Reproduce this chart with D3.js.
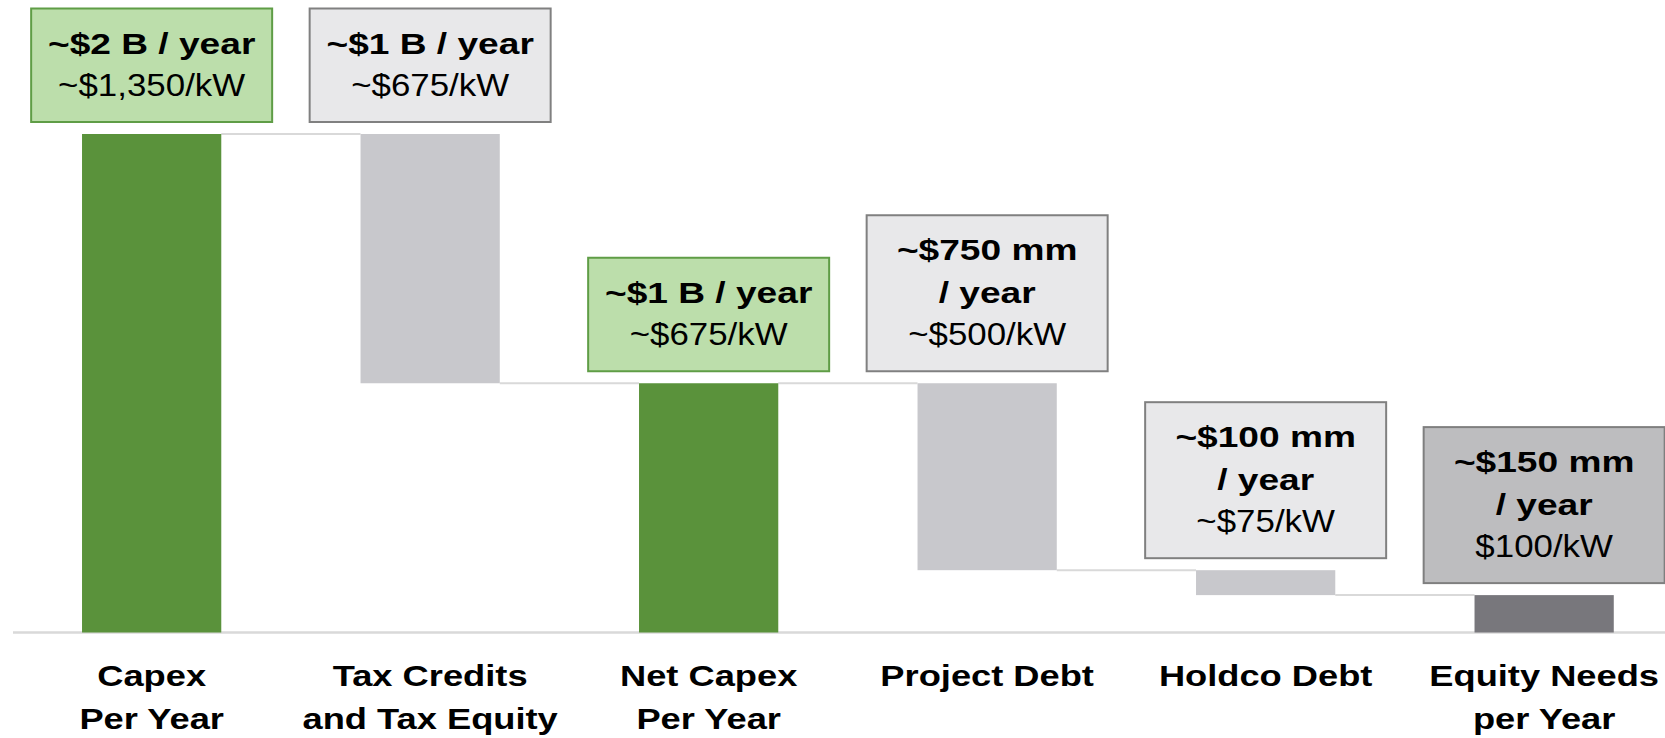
<!DOCTYPE html>
<html>
<head>
<meta charset="utf-8">
<script src="https://cdn.jsdelivr.net/npm/d3@7"></script>
<style>
  html, body { margin: 0; padding: 0; background: #fff; }
  svg { display: block; font-family: 'Liberation Sans', Arial, Helvetica, sans-serif; }
</style>
</head>
<body>
<div id="chart"></div>
<script>
const categories = [
  ['Capex', 'Per Year'],
  ['Tax Credits', 'and Tax Equity'],
  ['Net Capex', 'Per Year'],
  ['Project Debt'],
  ['Holdco Debt'],
  ['Equity Needs', 'per Year'],
]
// $ mm per year
const values = [2000, -1000, 1000, -750, -100, 150]
const kinds = ['total', 'step', 'total', 'step', 'step', 'result']
const headlines = [
  ['~$2 B / year'],
  ['~$1 B / year'],
  ['~$1 B / year'],
  ['~$750 mm', '/ year'],
  ['~$100 mm', '/ year'],
  ['~$150 mm', '/ year'],
]
const perKw = ['~$1,350/kW', '~$675/kW', '~$675/kW', '~$500/kW', '~$75/kW', '$100/kW']

const width = 1665
const height = 738
const baseline = 632.5
const labelGap = 12
const boxWidth = 241

const colors = {
  total: { bar: '#5a923b', fill: '#bcdeab', stroke: '#5f9d46' },
  step: { bar: '#c8c8cc', fill: '#e8e8ea', stroke: '#808080' },
  result: { bar: '#78777c', fill: '#bdbdbf', stroke: '#7f7f7f' },
}

// running waterfall levels
let level = 0
const rows = categories.map((c, i) => {
  const kind = kinds[i]
  const start = kind === 'step' ? level : 0
  const end = kind === 'step' ? level + values[i] : values[i]
  level = end
  return { i, kind, lines: c, start, end, head: headlines[i], kw: perKw[i] }
})

const svg = d3
  .select('#chart')
  .append('svg')
  .attr('width', width)
  .attr('height', height)

const xScale = d3
  .scaleBand()
  .domain(d3.range(categories.length))
  .range([12.4, 1683.4])
  .paddingInner(0.5)
  .paddingOuter(0.25)

const yScale = d3.scaleLinear().domain([0, 2000]).range([baseline, 134])

const barTop = d => yScale(Math.max(d.start, d.end))
const barBottom = d => yScale(Math.min(d.start, d.end))

// axis line
svg
  .append('line')
  .attr('x1', 13)
  .attr('x2', width)
  .attr('y1', baseline)
  .attr('y2', baseline)
  .attr('stroke', '#d9d9d9')
  .attr('stroke-width', 2.5)

// connectors
svg
  .append('g')
  .selectAll('line')
  .data(rows.slice(0, -1))
  .join('line')
  .attr('x1', d => xScale(d.i) + xScale.bandwidth())
  .attr('x2', d => xScale(d.i + 1))
  .attr('y1', d => yScale(d.end))
  .attr('y2', d => yScale(d.end))
  .attr('stroke', '#d9d9d9')
  .attr('stroke-width', 2)

// bars
svg
  .append('g')
  .selectAll('rect')
  .data(rows)
  .join('rect')
  .attr('x', d => xScale(d.i))
  .attr('width', xScale.bandwidth())
  .attr('y', barTop)
  .attr('height', d => barBottom(d) - barTop(d))
  .attr('fill', d => colors[d.kind].bar)

// value boxes
const boxHeight = d => 71 + 42.5 * d.head.length

const boxes = svg
  .append('g')
  .selectAll('g')
  .data(rows)
  .join('g')
  .attr('transform', d => {
    const cx = xScale(d.i) + xScale.bandwidth() / 2
    return `translate(${cx},${barTop(d) - labelGap - boxHeight(d)})`
  })

boxes
  .append('rect')
  .attr('x', -boxWidth / 2)
  .attr('y', 0)
  .attr('width', boxWidth)
  .attr('height', boxHeight)
  .attr('fill', d => colors[d.kind].fill)
  .attr('stroke', d => colors[d.kind].stroke)
  .attr('stroke-width', 2)

boxes.each(function (d) {
  const lines = [...d.head.map(t => ({ t, bold: true })), { t: d.kw, bold: false }]
  d3.select(this)
    .selectAll('text')
    .data(lines)
    .join('text')
    .attr('transform', (l, j) => `translate(0,${45 + 42.5 * j}) scale(${l.bold ? 1.28 : 1.09},1)`)
    .attr('text-anchor', 'middle')
    .attr('font-size', l => (l.bold ? 29 : 32))
    .attr('font-weight', l => (l.bold ? 700 : 400))
    .attr('fill', '#000')
    .text(l => l.t)
})

// category labels
svg
  .append('g')
  .selectAll('g')
  .data(rows)
  .join('g')
  .attr('transform', d => `translate(${xScale(d.i) + xScale.bandwidth() / 2},0)`)
  .selectAll('text')
  .data(d => d.lines)
  .join('text')
  .attr('transform', (t, j) => `translate(0,${686 + 43 * j}) scale(1.23,1)`)
  .attr('text-anchor', 'middle')
  .attr('font-size', 29.5)
  .attr('font-weight', 700)
  .attr('fill', '#000')
  .text(t => t)
</script>
</body>
</html>
